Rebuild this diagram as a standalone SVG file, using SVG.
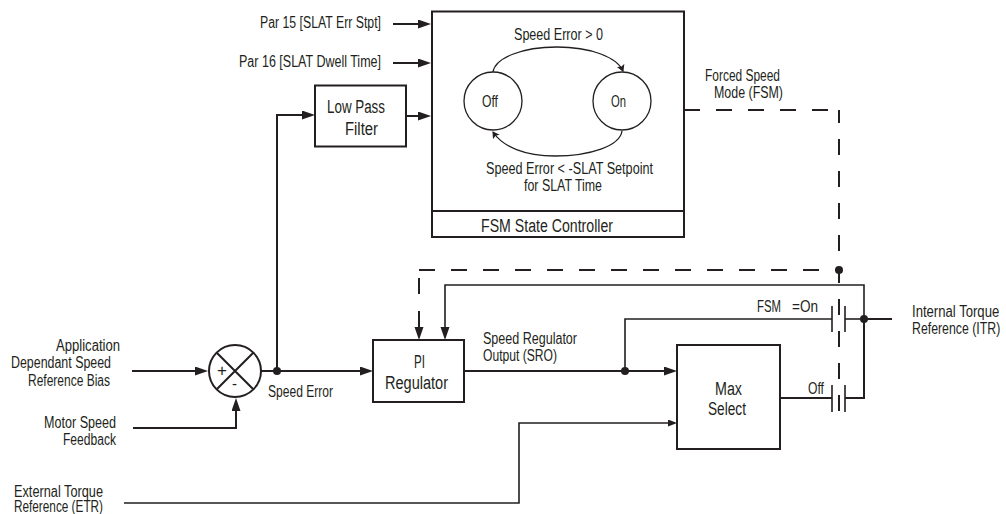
<svg xmlns="http://www.w3.org/2000/svg" width="1006" height="514" viewBox="0 0 1006 514">
<style>
text{font-family:"Liberation Sans",Arial,sans-serif;font-size:16px;fill:#231f20}
.big{font-size:18px}
.b{fill:#fff;stroke:#231f20;stroke-width:2}
.l{fill:none;stroke:#231f20;stroke-width:2}
.n{fill:none;stroke:#231f20;stroke-width:1.6}
.t{fill:none;stroke:#231f20;stroke-width:1.3}
.d{fill:none;stroke:#231f20;stroke-width:2;stroke-dasharray:16 16}
.a{fill:#231f20}
</style>
<defs>
<marker id="arr" markerUnits="userSpaceOnUse" markerWidth="14" markerHeight="10" refX="10" refY="4.5" orient="auto"><path d="M0 0L13 4.5L0 9z" fill="#231f20"/></marker>
<marker id="arrs" markerUnits="userSpaceOnUse" markerWidth="10" markerHeight="8" refX="7" refY="3.5" orient="auto"><path d="M0 0L9 3.5L0 7z" fill="#231f20"/></marker>
<marker id="sm" markerUnits="userSpaceOnUse" markerWidth="9" markerHeight="9" refX="6" refY="4" orient="auto"><path d="M0 0L7 4L0 8L1.5 4z" fill="#231f20"/></marker>
</defs>
<g id="connectors">
<path class="l" marker-end="url(#arr)" d="M393 24H428"/>
<path class="l" marker-end="url(#arr)" d="M393 63H428"/>
<path class="l" marker-end="url(#arr)" d="M406 116H428"/>
<path class="l" marker-end="url(#arr)" d="M277 371V115H312"/>
<path class="l" marker-end="url(#arr)" d="M132 371H205"/>
<path class="l" marker-end="url(#arr)" d="M133 428H236V401"/>
<path class="l" marker-end="url(#arr)" d="M261 371H370"/>
<path class="l" marker-end="url(#arr)" d="M464 371H674"/>
<path class="n" marker-end="url(#arrs)" d="M124 503H519V423H675"/>
<path class="n" d="M625 371V319H832"/>
<path class="n" d="M845 319H864"/>
<path class="l" d="M864 319H892"/>
<path class="l" d="M780 398H832"/>
<path class="l" d="M845 398H864V319"/>
<path class="n" marker-end="url(#arr)" d="M864 319V285H445V337"/>
<path class="n" d="M832 306V332M845 306V332M832 385V412M845 385V412"/>
<path class="d" d="M684 110H828"/>
<path class="d" stroke-dashoffset="3" d="M839 110V411"/>
<path class="d" d="M419 270H839"/>
<path class="l" d="M419 278V294"/>
<path class="l" marker-end="url(#arr)" d="M419 311V337"/>
<circle class="a" cx="277" cy="371" r="4"/>
<circle class="a" cx="625" cy="371" r="4"/>
<circle class="a" cx="839" cy="270" r="4"/>
<circle class="a" cx="864" cy="319" r="4"/>
</g>
<g id="fsm"><rect class="b" x="432" y="11.5" width="252" height="225.5"/><path class="l" d="M432 211H684"/><text class="big" x="481" y="232" textLength="132" lengthAdjust="spacingAndGlyphs">FSM State Controller</text>
<text x="514" y="40" textLength="89" lengthAdjust="spacingAndGlyphs">Speed Error &gt; 0</text>
<text x="486" y="174" textLength="167" lengthAdjust="spacingAndGlyphs">Speed Error &lt; -SLAT Setpoint</text><text x="524" y="191" textLength="78" lengthAdjust="spacingAndGlyphs">for SLAT Time</text>
<path class="t" marker-end="url(#sm)" d="M493 72C495 58 522 47 557 47C590 47 617 57 623 71"/>
<path class="t" marker-end="url(#sm)" d="M622 131C620 146 590 156 555 156C525 156 503 147 493 132"/>
</g>
<g id="off"><circle class="t" cx="493" cy="101" r="29"/><text x="482" y="107" textLength="16" lengthAdjust="spacingAndGlyphs">Off</text></g>
<g id="on"><circle class="t" cx="622" cy="101" r="29"/><text x="611" y="107" textLength="15" lengthAdjust="spacingAndGlyphs">On</text></g>
<g id="lpf"><rect class="b" x="315" y="85.5" width="91" height="61"/><text class="big" x="327" y="113" textLength="58" lengthAdjust="spacingAndGlyphs">Low Pass</text><text class="big" x="345" y="135" textLength="33" lengthAdjust="spacingAndGlyphs">Filter</text></g>
<g id="sum"><circle class="b" cx="235" cy="371" r="26"/><path class="l" d="M217 353L253 389M253 353L217 389"/><text x="217" y="376" textLength="10" lengthAdjust="spacingAndGlyphs">+</text><text x="232" y="389" textLength="5" lengthAdjust="spacingAndGlyphs">-</text></g>
<g id="pi"><rect class="b" x="373" y="340" width="91" height="62"/><text class="big" x="414" y="368" textLength="11" lengthAdjust="spacingAndGlyphs">PI</text><text class="big" x="385" y="389" textLength="63" lengthAdjust="spacingAndGlyphs">Regulator</text></g>
<g id="max"><rect class="b" x="677" y="345" width="103" height="104"/><text class="big" x="715" y="395" textLength="27" lengthAdjust="spacingAndGlyphs">Max</text><text class="big" x="708" y="415" textLength="38" lengthAdjust="spacingAndGlyphs">Select</text></g>
<g id="labels">
<text x="260" y="28" textLength="121" lengthAdjust="spacingAndGlyphs">Par 15 [SLAT Err Stpt]</text>
<text x="239" y="67" textLength="142" lengthAdjust="spacingAndGlyphs">Par 16 [SLAT Dwell Time]</text>
<text x="56" y="351" textLength="64" lengthAdjust="spacingAndGlyphs">Application</text>
<text x="11" y="368" textLength="100" lengthAdjust="spacingAndGlyphs">Dependant Speed</text>
<text x="28" y="386" textLength="82" lengthAdjust="spacingAndGlyphs">Reference Bias</text>
<text x="44" y="428" textLength="72" lengthAdjust="spacingAndGlyphs">Motor Speed</text>
<text x="63" y="445" textLength="53" lengthAdjust="spacingAndGlyphs">Feedback</text>
<text x="14" y="497" textLength="89" lengthAdjust="spacingAndGlyphs">External Torque</text>
<text x="14" y="512" textLength="89" lengthAdjust="spacingAndGlyphs">Reference (ETR)</text>
<text x="268" y="397" textLength="65" lengthAdjust="spacingAndGlyphs">Speed Error</text>
<text x="483" y="344" textLength="94" lengthAdjust="spacingAndGlyphs">Speed Regulator</text>
<text x="483" y="361" textLength="74" lengthAdjust="spacingAndGlyphs">Output (SRO)</text>
<text x="705" y="81" textLength="75" lengthAdjust="spacingAndGlyphs">Forced Speed</text>
<text x="714" y="98" textLength="69" lengthAdjust="spacingAndGlyphs">Mode (FSM)</text>
<text x="757" y="312" textLength="24" lengthAdjust="spacingAndGlyphs">FSM</text><text x="792" y="312" textLength="26" lengthAdjust="spacingAndGlyphs">=On</text>
<text x="808" y="394" textLength="16" lengthAdjust="spacingAndGlyphs">Off</text>
<text transform="translate(912 317) scale(.82 1)">Internal Torque</text>
<text transform="translate(912 334) scale(.77 1)">Reference (ITR)</text>
</g>
</svg>
